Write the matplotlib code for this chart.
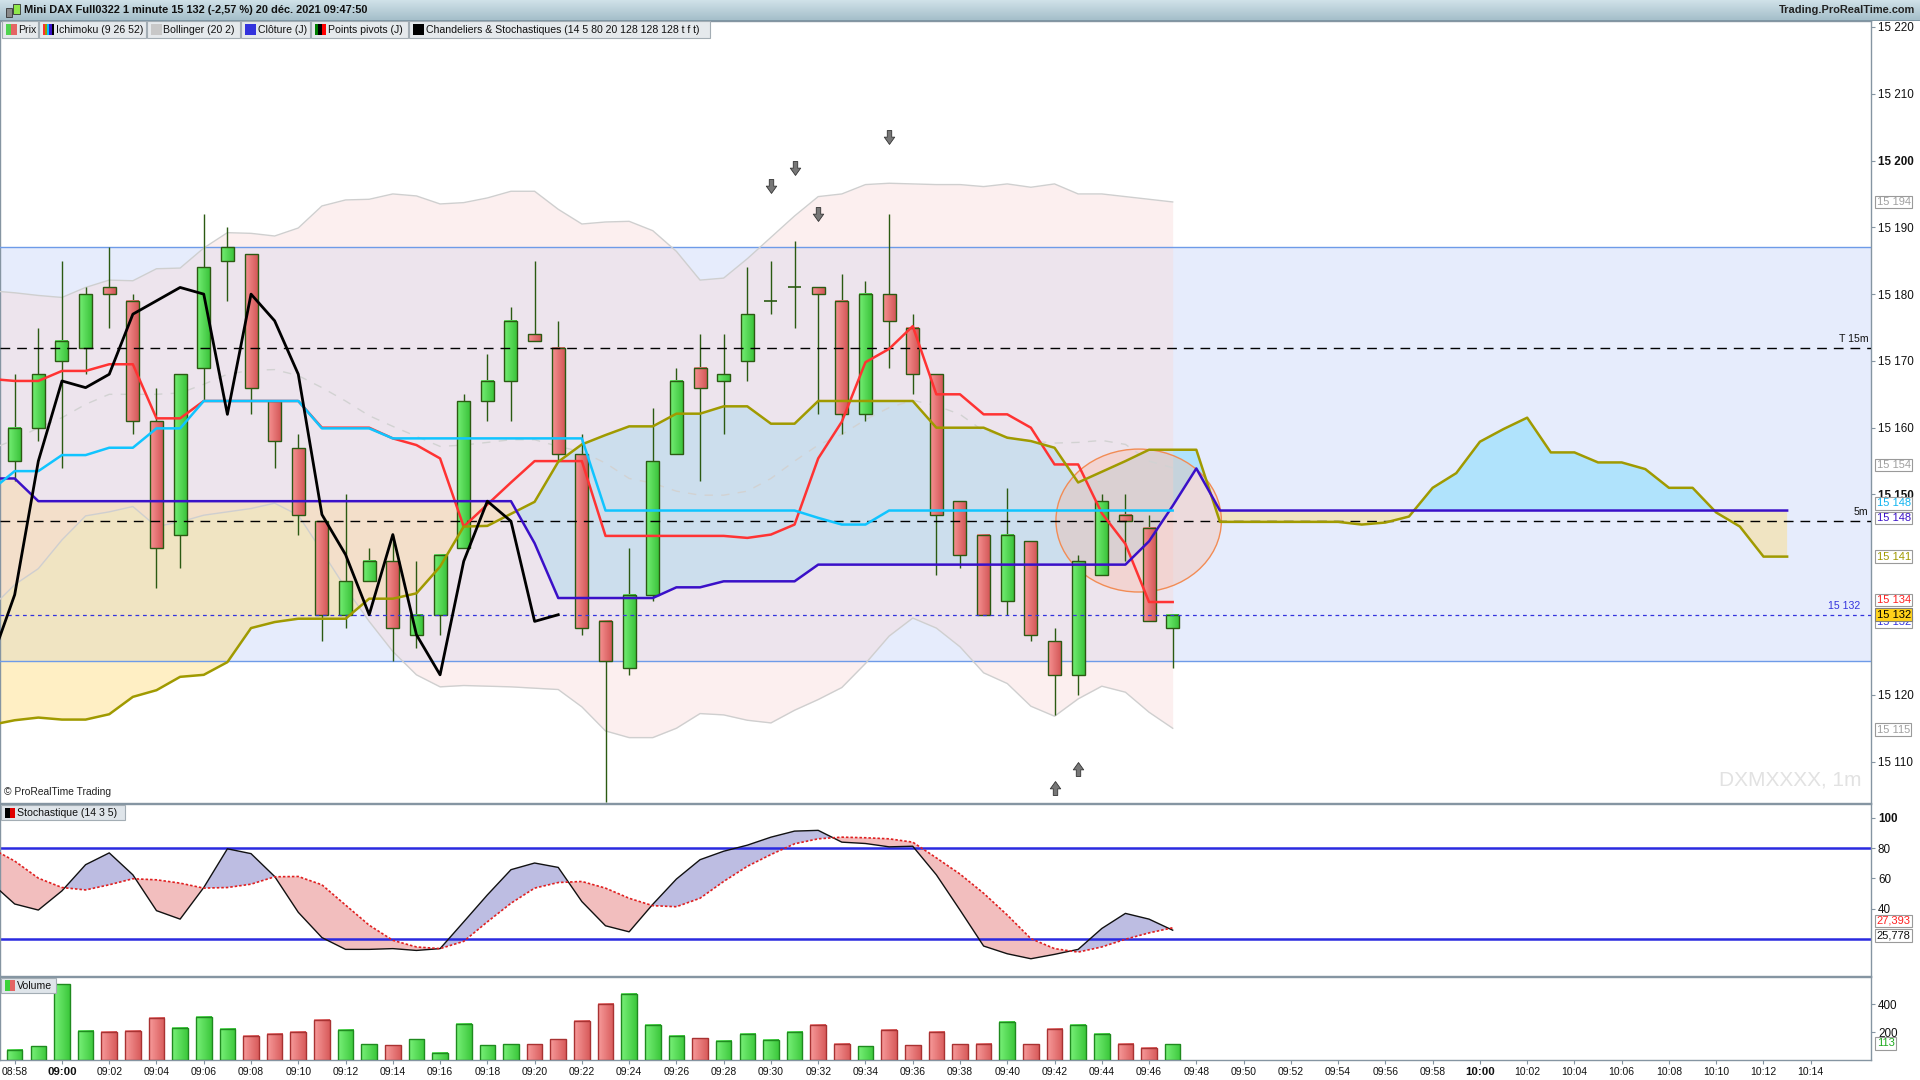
import numpy as np
import matplotlib
matplotlib.use("Agg")
import matplotlib.pyplot as plt
from matplotlib.patches import Rectangle, Ellipse
from matplotlib.path import Path
from matplotlib.colors import LinearSegmentedColormap

plt.rcParams['font.family'] = ['Liberation Sans', 'DejaVu Sans']

# ---------------------------------------------------------------- data
tick_labels = ["08:58", "09:00", "09:02", "09:04", "09:06", "09:08", "09:10", "09:12",
               "09:14", "09:16", "09:18", "09:20", "09:22", "09:24", "09:26", "09:28",
               "09:30", "09:32", "09:34", "09:36", "09:38", "09:40", "09:42", "09:44",
               "09:46", "09:48", "09:50", "09:52", "09:54", "09:56", "09:58", "10:00",
               "10:02", "10:04", "10:06", "10:08", "10:10", "10:12", "10:14"]
bold_ticks = ["09:00", "10:00"]

opens = [15155, 15160, 15170, 15172, 15181, 15179, 15161, 15144, 15169, 15185,
         15186, 15164, 15157, 15146, 15132, 15137, 15140, 15129, 15132, 15142,
         15164, 15167, 15174, 15172, 15156, 15131, 15124, 15135, 15156, 15169,
         15167, 15170, 15179, 15181, 15181, 15179, 15162, 15180, 15175, 15168,
         15149, 15144, 15134, 15143, 15128, 15123, 15138, 15147, 15145, 15130]
highs = [15168, 15175, 15185, 15181, 15187, 15180, 15166, 15168, 15192, 15190,
         15186, 15164, 15159, 15146, 15150, 15142, 15144, 15140, 15141, 15165,
         15171, 15178, 15185, 15176, 15159, 15131, 15142, 15163, 15169, 15174,
         15174, 15184, 15185, 15188, 15181, 15183, 15182, 15192, 15177, 15168,
         15149, 15144, 15151, 15143, 15130, 15141, 15150, 15150, 15147, 15132]
lows = [15152, 15158, 15154, 15168, 15175, 15159, 15136, 15139, 15164, 15179,
        15162, 15154, 15144, 15128, 15130, 15137, 15125, 15127, 15129, 15142,
        15161, 15161, 15173, 15155, 15129, 15104, 15123, 15134, 15156, 15152,
        15159, 15167, 15177, 15175, 15162, 15159, 15161, 15169, 15165, 15138,
        15139, 15132, 15132, 15128, 15117, 15120, 15138, 15140, 15131, 15124]
closes = [15160, 15168, 15173, 15180, 15180, 15161, 15142, 15168, 15184, 15187,
          15166, 15158, 15147, 15132, 15137, 15140, 15130, 15132, 15141, 15164,
          15167, 15176, 15173, 15156, 15130, 15125, 15135, 15155, 15167, 15166,
          15168, 15177, 15179, 15181, 15180, 15162, 15180, 15176, 15168, 15147,
          15141, 15132, 15144, 15129, 15123, 15140, 15149, 15146, 15131, 15132]
volumes = [77, 99, 539, 207, 200, 207, 301, 229, 308, 221,
           171, 185, 200, 286, 214, 113, 106, 149, 55, 257,
           106, 113, 113, 149, 279, 402, 474, 250, 171, 156,
           135, 185, 142, 200, 250, 120, 99, 214, 106, 200,
           113, 120, 272, 113, 221, 250, 185, 120, 91, 113]

# indicator series start one minute before the first candle (08:57)
tenkan = [15167.3, 15167.0, 15167.0, 15168.5, 15168.5, 15169.5, 15169.5, 15161.4, 15161.4, 15164.0, 15164.0,
          15164.0, 15164.0, 15164.0, 15160.0, 15160.0, 15160.0, 15158.4, 15157.4, 15155.4, 15145.2,
          15148.5, 15151.8, 15155.0, 15155.0, 15155.0, 15143.8, 15143.8, 15143.8, 15143.8, 15143.8,
          15143.8, 15143.5, 15144.0, 15145.5, 15155.4, 15160.9, 15169.8, 15171.8, 15175.2, 15165.0,
          15165.0, 15162.0, 15162.0, 15160.0, 15154.5, 15154.5, 15147.2, 15142.6, 15133.9, 15133.9]
kijun = [15150.6, 15153.5, 15153.5, 15155.9, 15155.9, 15157.0, 15157.0, 15159.9, 15159.9, 15164.0, 15164.0,
         15164.0, 15164.0, 15164.0, 15159.9, 15159.9, 15159.9, 15158.4, 15158.4, 15158.4, 15158.4,
         15158.4, 15158.4, 15158.4, 15158.4, 15158.4, 15147.6, 15147.6, 15147.6, 15147.6, 15147.6,
         15147.6, 15147.6, 15147.6, 15147.6, 15146.5, 15145.5, 15145.5, 15147.6, 15147.6, 15147.6,
         15147.6, 15147.6, 15147.6, 15147.6, 15147.6, 15147.6, 15147.6, 15147.6, 15147.6, 15147.6]
senkou_a = [15115.5, 15116.2, 15116.6, 15116.3, 15116.3, 15117.1, 15119.7, 15120.7, 15122.7, 15123.0, 15124.9,
            15130.0, 15130.9, 15131.4, 15131.4, 15131.4, 15134.4, 15134.4, 15135.2, 15139.2, 15145.2,
            15145.3, 15147.1, 15148.9, 15154.9, 15157.5, 15158.9, 15160.2, 15160.2, 15162.1, 15162.1,
            15163.2, 15163.2, 15160.6, 15160.6, 15164.0, 15164.0, 15164.0, 15164.0, 15164.0, 15160.0,
            15160.0, 15160.0, 15158.5, 15158.0, 15157.0, 15151.8, 15153.4, 15155.0, 15156.7, 15156.7,
            15156.7, 15145.9, 15145.9, 15145.9, 15145.9, 15145.9, 15145.9, 15145.5, 15145.8, 15146.7,
            15151.0, 15153.2, 15157.9, 15159.8, 15161.5, 15156.3, 15156.3, 15154.8, 15154.8, 15153.8,
            15151.0, 15151.0, 15147.3, 15145.2, 15140.7, 15140.7]
senkou_b = ([15152.4, 15152.4] + [15149.0] * 21 + [15142.7] + [15134.5] * 5 + [15136.1] * 2 +
            [15137.0] * 4 + [15139.5] * 14 + [15143.0, 15148.3, 15153.9] + [15147.6] * 25)
bb_upper = [15180.5, 15180.2, 15179.8, 15179.5, 15181.0, 15182.1, 15182.0, 15183.8, 15183.9, 15186.9, 15189.2,
            15189.1, 15188.7, 15189.9, 15193.2, 15194.1, 15194.2, 15195.0, 15194.7, 15193.5, 15193.7,
            15194.4, 15195.4, 15195.4, 15192.7, 15190.5, 15190.8, 15190.9, 15189.5, 15186.4, 15182.1,
            15182.4, 15185.3, 15188.5, 15191.7, 15194.6, 15195.0, 15196.4, 15196.6, 15196.5, 15196.4,
            15196.4, 15196.1, 15196.5, 15196.0, 15196.5, 15195.0, 15195.0, 15194.6, 15194.2, 15193.8]
bb_mid = [15156.8, 15158.2, 15160.0, 15161.5, 15163.5, 15165.0, 15165.0, 15165.0, 15165.2, 15166.5, 15168.0,
          15168.6, 15168.7, 15167.8, 15166.0, 15164.0, 15161.8, 15160.2, 15158.7, 15157.2, 15157.4,
          15157.8, 15158.2, 15158.2, 15157.2, 15156.4, 15154.7, 15152.4, 15151.7, 15150.5, 15149.9,
          15149.9, 15150.5, 15152.4, 15155.0, 15157.4, 15159.0, 15161.2, 15163.0, 15164.1, 15163.3,
          15162.0, 15159.5, 15158.6, 15158.0, 15157.7, 15157.8, 15158.1, 15157.5, 15155.0, 15154.0]
bb_lower = [15133.0, 15136.5, 15138.9, 15143.2, 15146.8, 15147.4, 15148.2, 15145.2, 15145.9, 15146.9, 15147.4,
            15147.9, 15148.7, 15146.9, 15141.5, 15136.0, 15131.0, 15126.5, 15123.0, 15121.2, 15121.4,
            15121.3, 15121.2, 15121.0, 15120.8, 15118.2, 15114.6, 15113.6, 15113.6, 15115.0, 15117.2,
            15117.0, 15116.2, 15115.8, 15117.7, 15119.3, 15121.1, 15124.7, 15128.8, 15131.5, 15130.0,
            15127.2, 15123.3, 15121.7, 15118.3, 15116.8, 15119.4, 15121.3, 15120.4, 15117.4, 15115.0]
stoch_k = [57.2, 43.1, 39.1, 51.8, 69.1, 76.9, 62.4, 38.7, 33.1, 54.0, 79.6,
           76.4, 61.3, 37.6, 20.9, 13.1, 13.1, 13.6, 12.4, 13.6, 31.3,
           49.1, 65.8, 70.2, 67.3, 44.7, 28.7, 24.7, 42.9, 59.6, 72.4,
           78.0, 82.0, 87.3, 91.3, 91.8, 84.0, 83.1, 80.9, 81.3, 62.4,
           39.1, 15.3, 10.2, 6.9, 9.8, 13.1, 26.9, 36.9, 33.1, 25.778]
stoch_d = [80.0, 71.5, 60.2, 54.0, 52.4, 55.8, 59.8, 59.1, 56.9, 53.6, 54.0,
           56.2, 61.1, 61.3, 55.8, 42.4, 29.1, 19.1, 14.7, 13.6, 18.4,
           31.3, 43.6, 53.6, 57.3, 58.0, 53.6, 46.9, 42.0, 41.3, 46.9,
           58.0, 68.0, 75.8, 82.9, 86.2, 87.3, 86.9, 86.2, 84.0, 73.6,
           62.9, 50.2, 35.8, 20.2, 13.6, 11.3, 14.7, 19.8, 24.0, 27.393]
chikou_shift = 26

pivot_levels = [15172, 15146]
pivot_names = ["T 15m", "5m"]
zone_top, zone_bottom = 15187, 15125
last_price = 15132
arrow_down_idx = [32, 33, 34, 37]
arrow_down_price = [15196.2, 15198.9, 15192.0, 15203.5]
arrow_up_idx = [44, 45]
arrow_up_price = [15106.0, 15108.9]
ellipse_center = (47.56, 15146.1)
ellipse_size = (7.0, 21.4)

title_text = "Mini DAX Full0322 1 minute 15 132 (-2,57 %) 20 déc. 2021 09:47:50"
legend_items = [("Prix", ['#4fd34f', '#e46464']),
                ("Ichimoku (9 26 52)", ['#ff3030', '#a09a00', '#00c0ff', '#3a10c8', '#000000']),
                ("Bollinger (20 2)", ['#c8c8c8']),
                ("Clôture (J)", ['#3333dd']),
                ("Points pivots (J)", ['#008000', '#000000', '#ff0000']),
                ("Chandeliers & Stochastiques (14 5 80 20 128 128 128 t f t)", ['#000000'])]

# ---------------------------------------------------------------- layout helpers
W, H = 1568.0, 882.0


def fx(x):
    return x / W


def fy(y):
    return 1 - y / H


fig = plt.figure(figsize=(19.2, 10.8), dpi=100)
fig.patch.set_facecolor('white')

X0, X1 = -0.622, 78.55
PLOT_R = 1528.0
ax = fig.add_axes([0, fy(656), fx(PLOT_R), (656 - 17) / H])
ax2 = fig.add_axes([0, fy(797), fx(PLOT_R), (797 - 657) / H])
ax3 = fig.add_axes([0, fy(866), fx(PLOT_R), (866 - 798) / H])

axis_col = '#8595a2'
for a in (ax, ax2, ax3):
    a.set_facecolor('white')
    for s in a.spines.values():
        s.set_color(axis_col)
        s.set_linewidth(1.0)
    a.yaxis.tick_right()
    a.tick_params(axis='y', direction='out', length=3, color=axis_col, pad=2,
                  labelsize=8.4, labelcolor='#111111')
    a.set_xlim(X0, X1)

n = len(closes)
cx = np.arange(n)
ix = np.arange(-1, n)              # indicator x (starts 08:57)
cloud_x = np.arange(-1, len(senkou_a) - 1)

# ---------------------------------------------------------------- price panel
ax.axhspan(zone_bottom, zone_top, color='#e6ecfc', zorder=0.5, lw=0)
ax.axhline(zone_top, color='#6e9be8', lw=1.0, zorder=3)
ax.axhline(zone_bottom, color='#6e9be8', lw=1.0, zorder=3)

sa = np.array(senkou_a)
sb = np.array(senkou_b)
ax.fill_between(cloud_x, sa, sb, where=sa >= sb, interpolate=True,
                color=(0.55, 0.87, 0.99), alpha=0.6, lw=0, zorder=1)
ax.fill_between(cloud_x, sa, sb, where=sa < sb, interpolate=True,
                color=(1.0, 0.85, 0.45), alpha=0.42, lw=0, zorder=1)

ax.fill_between(ix, bb_lower, bb_upper, color='#f8d8d8', alpha=0.4, lw=0, zorder=2)
ax.plot(ix, bb_upper, color='#cfcfcf', lw=1.0, zorder=3)
ax.plot(ix, bb_lower, color='#cfcfcf', lw=1.0, zorder=3)
ax.plot(ix, bb_mid, color='#d2d2d2', lw=1.0, ls=(0, (6, 6)), zorder=3)

ax.add_patch(Ellipse(ellipse_center, ellipse_size[0], ellipse_size[1],
                     fc=(1.0, 0.68, 0.55, 0.28), ec='#f28c55', lw=1.0, zorder=2.5))

# candles
wick_col = '#2b5a12'
cm_g = LinearSegmentedColormap.from_list('g', ['#74ee74', '#3cc43c'])
cm_r = LinearSegmentedColormap.from_list('r', ['#f69292', '#d45858'])
grad = np.linspace(0, 1, 32).reshape(1, -1)
bw = 0.55
for i in range(n):
    o, h, l, c = opens[i], highs[i], lows[i], closes[i]
    ax.vlines(cx[i], l, h, color=wick_col, lw=1.0, zorder=4)
    lo, hi = min(o, c), max(o, c)
    if hi - lo < 0.3:
        ax.hlines(o, cx[i] - bw / 2, cx[i] + bw / 2, color=wick_col, lw=1.2, zorder=5)
    else:
        ax.imshow(grad, extent=[cx[i] - bw / 2, cx[i] + bw / 2, lo, hi], aspect='auto',
                  cmap=cm_g if c > o else cm_r, interpolation='bilinear', zorder=5)
        ax.add_patch(Rectangle((cx[i] - bw / 2, lo), bw, hi - lo, fill=False,
                               ec=wick_col, lw=1.0, zorder=5.1))

# pivot and price lines
for lvl, nm in zip(pivot_levels, pivot_names):
    ax.axhline(lvl, color='black', lw=1.0, ls=(0, (7, 5)), zorder=6)
    ax.text(78.45, lvl + 0.6, nm, ha='right', va='bottom', fontsize=7.6, color='#111111', zorder=7)
ax.axhline(last_price, color='#3333dd', lw=0.9, ls=(0, (3, 3)), zorder=6)
ax.text(78.1, last_price + 0.5, f"{last_price:,}".replace(",", " "), ha='right', va='bottom',
        fontsize=7.6, color='#3333dd', zorder=7)

# ichimoku
ax.plot(ix, tenkan, color='#ff3333', lw=1.8, zorder=6)
ax.plot(ix, kijun, color='#10c4ff', lw=1.8, zorder=6.1)
ax.plot(cloud_x, senkou_a, color='#a09a00', lw=1.8, zorder=6)
ax.plot(cloud_x, senkou_b, color='#3a10c8', lw=1.8, zorder=6)
chikou_x = np.arange(-1, n - chikou_shift)
chikou_y = np.array(closes)[chikou_shift - 1:]
ax.plot(chikou_x, chikou_y, color='black', lw=2.0, zorder=6.2)

# arrows
down_path = Path([(-0.32, 1), (0.32, 1), (0.32, 0.05), (0.75, 0.05), (0, -1),
                  (-0.75, 0.05), (-0.32, 0.05), (-0.32, 1)], closed=True)
up_path = Path([(x, -y) for x, y in down_path.vertices], closed=True)
ax.plot(arrow_down_idx, arrow_down_price, ls='none', marker=down_path, ms=10,
        mfc='#777777', mec='#333333', mew=0.6, zorder=7)
ax.plot(arrow_up_idx, arrow_up_price, ls='none', marker=up_path, ms=10,
        mfc='#777777', mec='#333333', mew=0.6, zorder=7)

ax.text(1.0 - 8 / PLOT_R, 0.03, "DXMXXXX, 1m", transform=ax.transAxes, ha='right', va='center',
        fontsize=15, color='#e2e2e2', zorder=1)
ax.text(0.002, 0.008, "© ProRealTime Trading", transform=ax.transAxes, ha='left', va='bottom',
        fontsize=7.4, color='#222222', zorder=8)

ax.set_ylim(15103.77, 15220.92)
ax.set_xlim(X0, X1)
pt = [15110, 15120, 15150, 15160, 15170, 15180, 15190, 15200, 15210, 15220]
ax.set_yticks(pt)
ax.set_yticklabels([f"{v:,}".replace(",", " ") for v in pt])
for lab, v in zip(ax.get_yticklabels(), pt):
    if v % 50 == 0:
        lab.set_fontweight('bold')
ax.set_xticks([])


def val_label(a, y, s, tc, fc='white', ec='#9a9a9a', bold=False):
    a.text(1.003, y, s, transform=a.get_yaxis_transform(), ha='left', va='center',
           fontsize=8.0, color=tc, fontweight='bold' if bold else 'normal',
           bbox=dict(boxstyle='square,pad=0.12', fc=fc, ec=ec, lw=0.8),
           clip_on=False, zorder=20)


def fmt(v):
    return f"{int(round(v)):,}".replace(",", " ")


val_label(ax, bb_upper[-1], fmt(bb_upper[-1]), '#a0a0a0')
val_label(ax, bb_mid[-1] + 0.4, fmt(bb_mid[-1]), '#a0a0a0')
val_label(ax, bb_lower[-1] - 0.2, fmt(bb_lower[-1]), '#a0a0a0')
val_label(ax, kijun[-1] + 1.1, fmt(kijun[-1]), '#10b4f0')
val_label(ax, senkou_b[-1] - 1.1, fmt(senkou_b[-1]), '#3a10c8')
val_label(ax, senkou_a[-1], fmt(senkou_a[-1]), '#a09a00')
val_label(ax, tenkan[-1] + 0.3, fmt(tenkan[-1]), '#ff2020')
val_label(ax, last_price - 1.1, fmt(last_price), '#3333dd')
val_label(ax, last_price, fmt(last_price), '#000000', fc='#ffd21a', ec='#808080')

# ---------------------------------------------------------------- stochastic panel
sk = np.array(stoch_k)
sd = np.array(stoch_d)
ax2.fill_between(ix, sk, sd, where=sk >= sd, interpolate=True, color='#bdbde2', lw=0, zorder=1)
ax2.fill_between(ix, sk, sd, where=sk < sd, interpolate=True, color='#f2bebe', lw=0, zorder=1)
ax2.plot(ix, sk, color='#111111', lw=1.0, zorder=3)
ax2.plot(ix, sd, color='#e02020', lw=1.2, ls=(0, (1.5, 1.2)), zorder=3)
ax2.axhline(80, color='#2a2ae0', lw=1.8, zorder=2)
ax2.axhline(20, color='#2a2ae0', lw=1.8, zorder=2)
ax2.set_ylim(-4.45, 108.9)
ax2.set_xlim(X0, X1)
st = [40, 60, 80, 100]
ax2.set_yticks(st)
ax2.set_yticklabels([str(v) for v in st])
for lab, v in zip(ax2.get_yticklabels(), st):
    if v == 100:
        lab.set_fontweight('bold')
ax2.set_xticks([])
val_label(ax2, stoch_d[-1] + 4.5, f"{stoch_d[-1]:.3f}".replace('.', ','), '#ff2020')
val_label(ax2, stoch_k[-1] - 3.5, f"{stoch_k[-1]:.3f}".replace('.', ','), '#111111')

# ---------------------------------------------------------------- volume panel
vg = LinearSegmentedColormap.from_list('vg', ['#78f078', '#3cc83c'])
vr = LinearSegmentedColormap.from_list('vr', ['#f79a9a', '#d85c5c'])
vw = 0.66
for i in range(n):
    up = closes[i] >= opens[i]
    ax3.imshow(grad, extent=[cx[i] - vw / 2, cx[i] + vw / 2, 0, volumes[i]], aspect='auto',
               cmap=vg if up else vr, interpolation='bilinear', zorder=2)
    ax3.add_patch(Rectangle((cx[i] - vw / 2, 0), vw, volumes[i], fill=False,
                            ec='#1f8a1f' if up else '#a83232', lw=1.0, zorder=3))
ax3.set_ylim(0, 591)
ax3.set_xlim(X0, X1)
ax3.set_yticks([200, 400])
ax3.set_yticklabels(["200", "400"])
val_label(ax3, volumes[-1] + 8, str(volumes[-1]), '#1faa1f')
tick_pos = np.arange(0, 2 * len(tick_labels), 2)
ax3.set_xticks(tick_pos)
ax3.set_xticklabels(tick_labels)
ax3.tick_params(axis='x', direction='out', length=3, color=axis_col, pad=1.5,
                labelsize=7.5, labelcolor='#111111')
for lab in ax3.get_xticklabels():
    if lab.get_text() in bold_ticks:
        lab.set_fontweight('bold')
        lab.set_fontsize(8.2)

# ---------------------------------------------------------------- header & legends


def fig_rect(x0, y0, x1, y1, fc, ec='none', lw=0.8, z=5):
    fig.add_artist(Rectangle((fx(x0), fy(y1)), fx(x1) - fx(x0), fy(y0) - fy(y1),
                             transform=fig.transFigure, fc=fc, ec=ec, lw=lw, zorder=z))


tax = fig.add_axes([0, fy(16.5), 1, 16.5 / H])
tgrad = np.linspace(0, 1, 32).reshape(-1, 1)
tax.imshow(tgrad, extent=[0, 1, 0, 1], aspect='auto',
           cmap=LinearSegmentedColormap.from_list('t', ['#d2e3ea', '#a5bfca']))
tax.set_xlim(0, 1)
tax.set_ylim(0, 1)
tax.axis('off')
fig_rect(0, 16.3, 1568, 17, '#7f96a4', z=6)
# title icon
fig_rect(4.5, 6.5, 9.5, 13.5, '#8a8a8a', ec='#333333', lw=0.6, z=7)
fig_rect(11, 3.5, 16, 11.5, '#8fe84a', ec='#333333', lw=0.6, z=7)
fig.text(fx(20), fy(8.5), title_text, ha='left', va='center', fontsize=7.9,
         fontweight='bold', color='#111111', zorder=8)
fig.text(fx(1564), fy(8.5), "Trading.ProRealTime.com", ha='right', va='center', fontsize=7.9,
         fontweight='bold', color='#222222', zorder=8)

legend_x = [1.5, 32, 120, 197, 254, 334, 580.5]
for k, (lab, cols) in enumerate(legend_items):
    x0, x1 = legend_x[k], legend_x[k + 1] - 1
    fig_rect(x0, 17.5, x1, 31, '#e5e9ec', ec='#a3adb4', lw=0.8, z=6)
    iw = 9.0 / len(cols)
    for j, col in enumerate(cols):
        fig_rect(x0 + 3 + j * iw, 20, x0 + 3 + (j + 1) * iw, 28.5, col, z=7)
    fig.text(fx(x0 + 13.5), fy(24.5), lab, ha='left', va='center', fontsize=7.6,
             color='#111111', zorder=8)

fig_rect(1, 657.5, 102, 670, '#dfe5ea', ec='#a3adb4', lw=0.8, z=6)
fig_rect(4, 659.5, 8, 668, '#000000', z=7)
fig_rect(8, 659.5, 12, 668, '#e00000', z=7)
fig.text(fx(14), fy(664), "Stochastique (14 3 5)", ha='left', va='center', fontsize=7.6,
         color='#111111', zorder=8)

fig_rect(1, 798.5, 46, 811, '#dfe5ea', ec='#a3adb4', lw=0.8, z=6)
fig_rect(4, 800.5, 8, 809, '#3bd23b', z=7)
fig_rect(8, 800.5, 12, 809, '#e46464', z=7)
fig.text(fx(14), fy(805), "Volume", ha='left', va='center', fontsize=7.6,
         color='#111111', zorder=8)

fig.savefig("out.png", dpi=100, facecolor='white')
